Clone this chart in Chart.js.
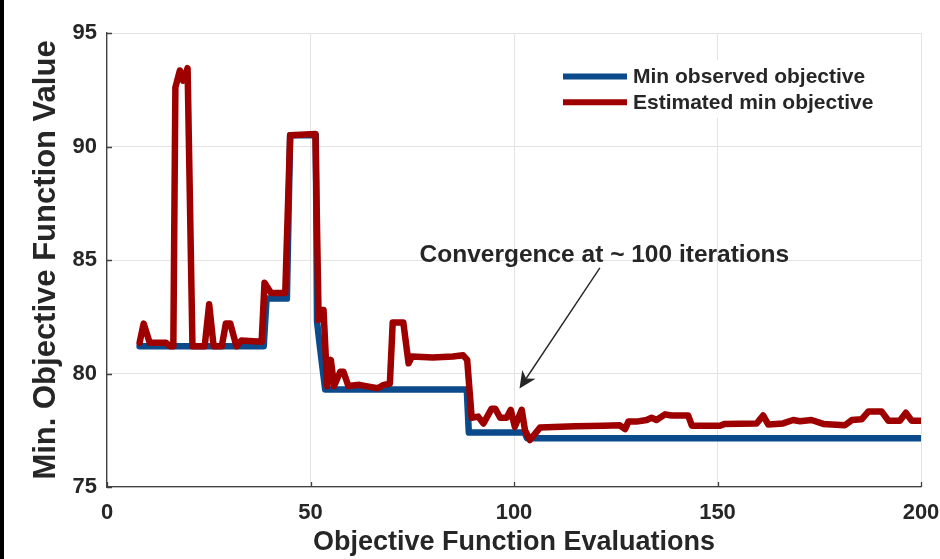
<!DOCTYPE html>
<html>
<head>
<meta charset="utf-8">
<script src="https://cdn.jsdelivr.net/npm/chart.js@4.4.0/dist/chart.umd.min.js"></script>
<style>
html,body{margin:0;padding:0;background:#fff;}
#wrap{width:940px;height:559px;position:relative;overflow:hidden;}
canvas{display:block;}
</style>
</head>
<body>
<div id="wrap"><canvas id="c" width="940" height="559"></canvas></div>
<script>
// ---------------- data ----------------
const xTickValues = [0, 50, 100, 150, 200];
const yTickValues = [75, 80, 85, 90, 95];

const observedLabel = 'Min observed objective';
const estimatedLabel = 'Estimated min objective';

const observedX = [8, 38.5, 39.2, 44.2, 45.0, 51.3, 51.6, 52.3, 53.6, 88.4, 88.9, 102.6, 103.2, 200];
const observedY = [81.2, 81.2, 83.3, 83.3, 90.5, 90.5, 82.3, 81.2, 79.3, 79.3, 77.4, 77.4, 77.15, 77.15];

const estimatedX = [8, 9, 10.5, 14.5, 15.5, 16.3, 16.8, 17.9, 18.7, 19.8, 21.0, 24.0, 25.1, 26.2, 28.2, 29.2, 30.3, 31.8, 33.0, 38.0,
  38.7, 40.3, 43.8, 45.0, 51.2, 52.0, 52.6, 53.2, 54.1, 55.0, 55.8, 57.3, 58.1, 59.3, 62, 65, 66.5, 68, 69.5, 70.2,
  72.8, 74.1, 74.9, 80, 85, 87.5, 88.5, 89.6, 91.2, 92.5, 94.5, 95.4, 96.6, 98.2, 99.2, 100.2, 101.9, 102.7, 103.9, 105.2,
  106.4, 115, 122, 126, 127.3, 128.1, 130.1, 132.6, 133.8, 135, 137.1, 138.7, 142.8, 143.7, 150.6, 151.8, 159.6, 161.2, 162.5, 166.1,
  168.6, 170.3, 173.1, 176, 181.3, 183, 185.4, 187.1, 190.3, 192, 194.8, 196.3, 197.7, 200];
const estimatedY = [81.35, 82.2, 81.35, 81.35, 81.2, 81.2, 92.6, 93.35, 92.9, 93.45, 81.2, 81.2, 83.05, 81.2, 81.2, 82.2, 82.2, 81.2, 81.45, 81.4,
  84.0, 83.55, 83.55, 90.5, 90.55, 82.36, 82.8, 82.8, 79.45, 80.6, 79.45, 80.08, 80.08, 79.45, 79.5, 79.4, 79.35, 79.5, 79.55, 82.25,
  82.25, 80.45, 80.75, 80.7, 80.75, 80.8, 80.6, 78.05, 78.1, 77.8, 78.45, 78.45, 78.05, 78.05, 78.4, 77.65, 78.4, 77.5, 77.07, 77.35,
  77.62, 77.68, 77.7, 77.72, 77.55, 77.88, 77.88, 77.95, 78.05, 77.95, 78.2, 78.15, 78.15, 77.7, 77.7, 77.78, 77.8, 78.15, 77.75, 77.8,
  77.95, 77.9, 77.95, 77.78, 77.72, 77.95, 77.98, 78.33, 78.33, 77.92, 77.92, 78.27, 77.92, 77.92];

const xTitle = 'Objective Function Evaluations';
const yTitle = 'Min. Objective Function Value';
const annotationText = 'Convergence at ~ 100 iterations';
const annotationAt = [122.2, 84.91];   // data coords (x, y) of text baseline centre
const arrowFrom = [121.1, 84.65];      // data coords
const arrowTo = [101.35, 79.34];       // data coords (arrow tip)

// ---------------- styles ----------------
const FONT = "'Liberation Sans', Arial, Helvetica, sans-serif";
const TEXT = '#262626';
const AXIS = '#404040';
const GRID = '#e3e3e3';
const BLUE = '#0B4A8B';
const RED = '#9E0000';

function toPoints(xs, ys) { return xs.map((x, i) => ({x: x, y: ys[i]})); }

const decor = {
  id: 'decor',
  beforeDraw(chart) {
    const c = chart.ctx;
    c.save();
    c.fillStyle = '#fff';
    c.fillRect(0, 0, chart.width, chart.height);
    c.restore();
  },
  afterDatasetsDraw(chart) {
    const c = chart.ctx;
    const xs = chart.scales.x, ys = chart.scales.y;
    const a = chart.chartArea;
    c.save();
    // inward tick marks
    c.strokeStyle = AXIS;
    c.lineWidth = 1.3;
    c.beginPath();
    xTickValues.forEach(v => {
      const px = Math.round(xs.getPixelForValue(v)) + 0.5;
      c.moveTo(px, a.bottom); c.lineTo(px, a.bottom - 5);
    });
    yTickValues.forEach(v => {
      const py = Math.round(ys.getPixelForValue(v)) + 0.5;
      c.moveTo(a.left, py); c.lineTo(a.left + 5, py);
    });
    c.stroke();

    // annotation text
    c.fillStyle = TEXT;
    c.font = 'bold 24.5px ' + FONT;
    c.textAlign = 'center';
    c.textBaseline = 'alphabetic';
    c.fillText(annotationText, xs.getPixelForValue(annotationAt[0]), ys.getPixelForValue(annotationAt[1]));

    // arrow
    const x0 = xs.getPixelForValue(arrowFrom[0]), y0 = ys.getPixelForValue(arrowFrom[1]);
    const x1 = xs.getPixelForValue(arrowTo[0]), y1 = ys.getPixelForValue(arrowTo[1]);
    const dx = x0 - x1, dy = y0 - y1, len = Math.hypot(dx, dy);
    const ux = dx / len, uy = dy / len, nx = -uy, ny = ux;
    const L = 17, W = 8, N = 12;
    c.strokeStyle = '#262626';
    c.lineWidth = 1.4;
    c.beginPath();
    c.moveTo(x0, y0);
    c.lineTo(x1 + ux * N, y1 + uy * N);
    c.stroke();
    c.fillStyle = '#262626';
    c.beginPath();
    c.moveTo(x1, y1);
    c.lineTo(x1 + ux * L + nx * W, y1 + uy * L + ny * W);
    c.lineTo(x1 + ux * N, y1 + uy * N);
    c.lineTo(x1 + ux * L - nx * W, y1 + uy * L - ny * W);
    c.closePath();
    c.fill();

    // legend (inside plot, top right)
    const items = [
      {label: observedLabel, color: BLUE},
      {label: estimatedLabel, color: RED}
    ];
    c.fillStyle = '#fff';
    c.fillRect(a.right - 366, a.top + 27, 326, 58);
    c.font = 'bold 21px ' + FONT;
    c.textAlign = 'left';
    c.textBaseline = 'middle';
    items.forEach((it, i) => {
      const y = a.top + 43.5 + i * 25.8;
      c.strokeStyle = it.color;
      c.lineWidth = 6;
      c.lineCap = 'butt';
      c.beginPath();
      c.moveTo(a.right - 358, y);
      c.lineTo(a.right - 294, y);
      c.stroke();
      c.fillStyle = TEXT;
      c.fillText(it.label, a.right - 288, y + 1);
    });
    c.restore();
  },
  afterDraw(chart) {
    const c = chart.ctx;
    c.save();
    c.fillStyle = '#000';
    c.fillRect(0, 0, 4, chart.height);
    c.restore();
  }
};

new Chart(document.getElementById('c').getContext('2d'), {
  type: 'line',
  data: {
    datasets: [
      {label: estimatedLabel, data: toPoints(estimatedX, estimatedY), borderColor: RED, backgroundColor: RED,
       borderWidth: 6.5, pointRadius: 0, tension: 0, borderJoinStyle: 'round', borderCapStyle: 'round', order: 0, fill: false},
      {label: observedLabel, data: toPoints(observedX, observedY), borderColor: BLUE, backgroundColor: BLUE,
       borderWidth: 6.5, pointRadius: 0, tension: 0, borderJoinStyle: 'round', borderCapStyle: 'round', order: 1, fill: false}
    ]
  },
  options: {
    responsive: false,
    animation: false,
    devicePixelRatio: 1,
    layout: {padding: {left: 0, top: 33, right: 19, bottom: 0}},
    plugins: {legend: {display: false}, tooltip: {enabled: false}},
    scales: {
      x: {
        type: 'linear', min: 0, max: 200,
        afterBuildTicks: s => { s.ticks = xTickValues.map(v => ({value: v})); },
        afterFit: s => { s.height = 72; s.paddingLeft = 0; s.paddingRight = 0; },
        ticks: {font: {family: FONT, size: 22, weight: 'bold'}, color: TEXT, padding: 13, maxRotation: 0, autoSkip: false},
        grid: {color: GRID, lineWidth: 1, drawTicks: false},
        border: {color: AXIS, width: 1.3},
        title: {display: true, text: xTitle, color: TEXT, font: {family: FONT, size: 27, weight: 'bold'}, padding: {top: 0, bottom: 0}}
      },
      y: {
        type: 'linear', min: 75, max: 95,
        afterBuildTicks: s => { s.ticks = yTickValues.map(v => ({value: v})); },
        afterFit: s => { s.width = 107; s.paddingTop = 0; s.paddingBottom = 0; },
        ticks: {font: {family: FONT, size: 22, weight: 'bold'}, color: TEXT, padding: 10, autoSkip: false},
        grid: {color: GRID, lineWidth: 1, drawTicks: false},
        border: {color: AXIS, width: 1.3},
        title: {display: true, text: yTitle, color: TEXT, font: {family: FONT, size: 31, weight: 'bold'}, padding: {top: 28, bottom: 0}}
      }
    }
  },
  plugins: [decor]
});
</script>
</body>
</html>
